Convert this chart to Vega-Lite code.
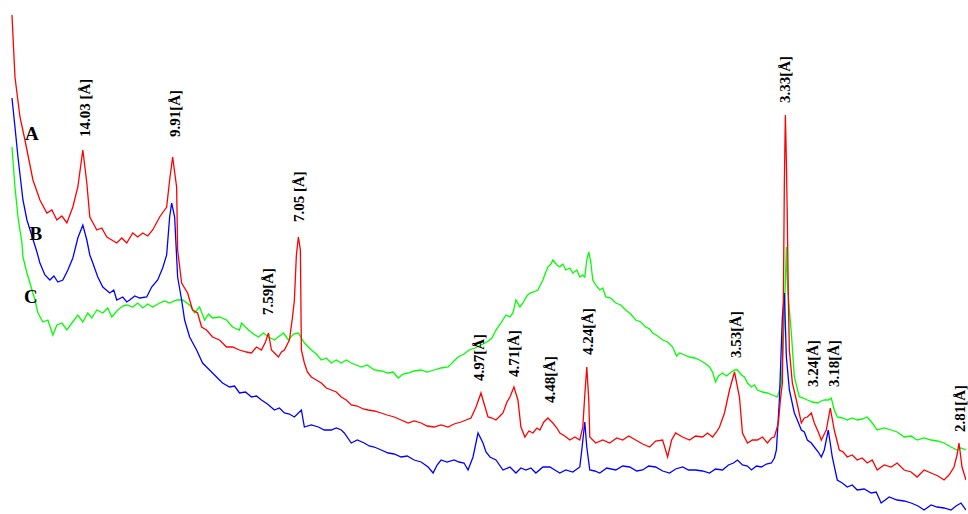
{
  "$schema": "https://vega.github.io/schema/vega-lite/v6.json",
  "width": 968,
  "height": 514,
  "autosize": {"type": "fit", "contains": "padding"},
  "padding": 0,
  "background": "white",
  "config": {"view": {"stroke": null}},
  "datasets": {
    "A": [
      {"angle":4.348,"counts":499},{"angle":4.435,"counts":437},{"angle":4.58,"counts":397},{"angle":4.725,"counts":374},{"angle":4.957,"counts":334},{"angle":5.16,"counts":314},{"angle":5.363,"counts":301},{"angle":5.508,"counts":304},{"angle":5.653,"counts":294},{"angle":5.798,"counts":298},{"angle":5.943,"counts":291},{"angle":6.117,"counts":307},{"angle":6.262,"counts":327},{"angle":6.407,"counts":364},{"angle":6.523,"counts":331},{"angle":6.61,"counts":297},{"angle":6.813,"counts":284},{"angle":6.958,"counts":286},{"angle":7.103,"counts":277},{"angle":7.248,"counts":274},{"angle":7.393,"counts":271},{"angle":7.538,"counts":276},{"angle":7.683,"counts":271},{"angle":7.857,"counts":281},{"angle":8.002,"counts":277},{"angle":8.147,"counts":281},{"angle":8.292,"counts":278},{"angle":8.437,"counts":284},{"angle":8.64,"counts":297},{"angle":8.843,"counts":307},{"angle":8.93,"counts":334},{"angle":9.017,"counts":357},{"angle":9.133,"counts":327},{"angle":9.162,"counts":264},{"angle":9.278,"counts":231},{"angle":9.452,"counts":221},{"angle":9.597,"counts":204},{"angle":9.742,"counts":201},{"angle":9.858,"counts":187},{"angle":10.003,"counts":184},{"angle":10.177,"counts":177},{"angle":10.38,"counts":174},{"angle":10.583,"counts":167},{"angle":10.757,"counts":167},{"angle":10.96,"counts":164},{"angle":11.163,"counts":162},{"angle":11.308,"counts":161},{"angle":11.453,"counts":167},{"angle":11.598,"counts":164},{"angle":11.714,"counts":172},{"angle":11.801,"counts":181},{"angle":11.888,"counts":164},{"angle":12.004,"counts":160},{"angle":12.091,"counts":157},{"angle":12.178,"counts":162},{"angle":12.265,"counts":164},{"angle":12.41,"counts":174},{"angle":12.497,"counts":196},{"angle":12.555,"counts":214},{"angle":12.613,"counts":259},{"angle":12.671,"counts":277},{"angle":12.729,"counts":264},{"angle":12.758,"counts":164},{"angle":12.845,"counts":151},{"angle":12.932,"counts":142},{"angle":13.048,"counts":137},{"angle":13.193,"counts":134},{"angle":13.338,"counts":131},{"angle":13.483,"counts":126},{"angle":13.628,"counts":124},{"angle":13.773,"counts":122},{"angle":13.918,"counts":117},{"angle":14.063,"counts":114},{"angle":14.208,"counts":109},{"angle":14.382,"counts":108},{"angle":14.556,"counts":105},{"angle":14.701,"counts":104},{"angle":14.875,"counts":103},{"angle":15.078,"counts":101},{"angle":15.252,"counts":99},{"angle":15.455,"counts":97},{"angle":15.658,"counts":94},{"angle":15.861,"counts":91},{"angle":16.035,"counts":93},{"angle":16.238,"counts":91},{"angle":16.412,"counts":88},{"angle":16.615,"counts":87},{"angle":16.818,"counts":89},{"angle":17.021,"counts":87},{"angle":17.195,"counts":90},{"angle":17.398,"counts":92},{"angle":17.543,"counts":94},{"angle":17.688,"counts":96},{"angle":17.833,"counts":107},{"angle":17.978,"counts":121},{"angle":18.036,"counts":114},{"angle":18.181,"counts":97},{"angle":18.297,"counts":96},{"angle":18.413,"counts":94},{"angle":18.529,"counts":98},{"angle":18.616,"counts":101},{"angle":18.732,"counts":112},{"angle":18.819,"counts":117},{"angle":18.935,"counts":127},{"angle":19.051,"counts":114},{"angle":19.138,"counts":87},{"angle":19.254,"counts":77},{"angle":19.37,"counts":83},{"angle":19.486,"counts":81},{"angle":19.602,"counts":86},{"angle":19.689,"counts":84},{"angle":19.805,"counts":92},{"angle":19.921,"counts":96},{"angle":20.066,"counts":91},{"angle":20.182,"counts":86},{"angle":20.269,"counts":81},{"angle":20.414,"counts":78},{"angle":20.559,"counts":74},{"angle":20.704,"counts":77},{"angle":20.849,"counts":74},{"angle":20.936,"counts":87},{"angle":20.994,"counts":119},{"angle":21.052,"counts":147},{"angle":21.11,"counts":114},{"angle":21.139,"counts":77},{"angle":21.313,"counts":71},{"angle":21.516,"counts":74},{"angle":21.719,"counts":71},{"angle":21.922,"counts":76},{"angle":22.096,"counts":74},{"angle":22.27,"counts":78},{"angle":22.473,"counts":74},{"angle":22.676,"counts":70},{"angle":22.879,"counts":67},{"angle":23.053,"counts":73},{"angle":23.256,"counts":74},{"angle":23.401,"counts":57},{"angle":23.517,"counts":74},{"angle":23.633,"counts":81},{"angle":23.836,"counts":77},{"angle":24.039,"counts":74},{"angle":24.213,"counts":78},{"angle":24.416,"counts":77},{"angle":24.561,"counts":81},{"angle":24.706,"counts":77},{"angle":24.822,"counts":82},{"angle":24.909,"counts":87},{"angle":25.054,"counts":101},{"angle":25.199,"counts":124},{"angle":25.344,"counts":142},{"angle":25.489,"counts":117},{"angle":25.576,"counts":81},{"angle":25.721,"counts":71},{"angle":25.866,"counts":74},{"angle":26.011,"counts":74},{"angle":26.156,"counts":77},{"angle":26.301,"counts":71},{"angle":26.417,"counts":76},{"angle":26.504,"counts":77},{"angle":26.62,"counts":91},{"angle":26.678,"counts":114},{"angle":26.736,"counts":131},{"angle":26.765,"counts":214},{"angle":26.794,"counts":334},{"angle":26.823,"counts":399},{"angle":26.852,"counts":354},{"angle":26.881,"counts":291},{"angle":26.91,"counts":214},{"angle":26.939,"counts":164},{"angle":27.026,"counts":131},{"angle":27.142,"counts":114},{"angle":27.287,"counts":91},{"angle":27.374,"counts":96},{"angle":27.461,"counts":97},{"angle":27.577,"counts":101},{"angle":27.664,"counts":91},{"angle":27.78,"counts":82},{"angle":27.867,"counts":74},{"angle":27.954,"counts":80},{"angle":28.012,"counts":84},{"angle":28.128,"counts":106},{"angle":28.244,"counts":84},{"angle":28.389,"counts":64},{"angle":28.505,"counts":62},{"angle":28.621,"counts":57},{"angle":28.766,"counts":59},{"angle":28.911,"counts":54},{"angle":29.056,"counts":56},{"angle":29.201,"counts":51},{"angle":29.346,"counts":54},{"angle":29.491,"counts":44},{"angle":29.694,"counts":49},{"angle":29.897,"counts":47},{"angle":30.071,"counts":51},{"angle":30.274,"counts":44},{"angle":30.477,"counts":42},{"angle":30.651,"counts":37},{"angle":30.854,"counts":44},{"angle":31.057,"counts":41},{"angle":31.26,"counts":38},{"angle":31.434,"counts":34},{"angle":31.579,"counts":39},{"angle":31.724,"counts":47},{"angle":31.811,"counts":59},{"angle":31.869,"counts":71},{"angle":31.956,"counts":47},{"angle":32.072,"counts":34}
    ],
    "B": [
      {"angle":4.348,"counts":416},{"angle":4.435,"counts":387},{"angle":4.522,"counts":357},{"angle":4.667,"counts":314},{"angle":4.783,"counts":294},{"angle":4.928,"counts":278},{"angle":5.073,"counts":262},{"angle":5.16,"counts":251},{"angle":5.305,"counts":239},{"angle":5.45,"counts":234},{"angle":5.566,"counts":238},{"angle":5.682,"counts":232},{"angle":5.827,"counts":234},{"angle":5.972,"counts":244},{"angle":6.117,"counts":256},{"angle":6.262,"counts":276},{"angle":6.407,"counts":289},{"angle":6.523,"counts":274},{"angle":6.61,"counts":259},{"angle":6.697,"counts":251},{"angle":6.842,"counts":237},{"angle":6.987,"counts":227},{"angle":7.19,"counts":221},{"angle":7.306,"counts":224},{"angle":7.393,"counts":214},{"angle":7.567,"counts":217},{"angle":7.683,"counts":212},{"angle":7.77,"counts":214},{"angle":7.915,"counts":218},{"angle":8.06,"counts":216},{"angle":8.263,"counts":217},{"angle":8.408,"counts":227},{"angle":8.582,"counts":234},{"angle":8.727,"counts":246},{"angle":8.843,"counts":259},{"angle":8.93,"counts":297},{"angle":8.988,"counts":311},{"angle":9.075,"counts":297},{"angle":9.133,"counts":257},{"angle":9.162,"counts":237},{"angle":9.278,"counts":214},{"angle":9.365,"counts":194},{"angle":9.51,"counts":177},{"angle":9.713,"counts":164},{"angle":9.887,"counts":151},{"angle":10.09,"counts":144},{"angle":10.293,"counts":137},{"angle":10.467,"counts":131},{"angle":10.67,"counts":127},{"angle":10.815,"counts":128},{"angle":10.96,"counts":121},{"angle":11.134,"counts":122},{"angle":11.308,"counts":117},{"angle":11.453,"counts":118},{"angle":11.598,"counts":114},{"angle":11.772,"counts":110},{"angle":11.975,"counts":104},{"angle":12.12,"counts":106},{"angle":12.265,"counts":101},{"angle":12.41,"counts":100},{"angle":12.555,"counts":97},{"angle":12.758,"counts":104},{"angle":12.845,"counts":87},{"angle":13.048,"counts":89},{"angle":13.251,"counts":87},{"angle":13.425,"counts":84},{"angle":13.628,"counts":84},{"angle":13.773,"counts":86},{"angle":13.918,"counts":84},{"angle":14.005,"counts":81},{"angle":14.208,"counts":71},{"angle":14.382,"counts":74},{"angle":14.585,"counts":71},{"angle":14.73,"counts":68},{"angle":14.875,"counts":67},{"angle":15.078,"counts":64},{"angle":15.281,"counts":61},{"angle":15.455,"counts":60},{"angle":15.658,"counts":57},{"angle":15.832,"counts":58},{"angle":16.035,"counts":54},{"angle":16.238,"counts":52},{"angle":16.441,"counts":47},{"angle":16.586,"counts":41},{"angle":16.702,"counts":49},{"angle":16.818,"counts":54},{"angle":16.992,"counts":52},{"angle":17.195,"counts":54},{"angle":17.34,"counts":52},{"angle":17.485,"counts":51},{"angle":17.601,"counts":44},{"angle":17.746,"counts":57},{"angle":17.891,"counts":81},{"angle":18.036,"counts":71},{"angle":18.123,"counts":62},{"angle":18.239,"counts":57},{"angle":18.413,"counts":54},{"angle":18.616,"counts":44},{"angle":18.819,"counts":47},{"angle":18.993,"counts":41},{"angle":19.138,"counts":46},{"angle":19.283,"counts":44},{"angle":19.428,"counts":46},{"angle":19.573,"counts":41},{"angle":19.776,"counts":47},{"angle":19.979,"counts":47},{"angle":20.124,"counts":44},{"angle":20.269,"counts":41},{"angle":20.443,"counts":44},{"angle":20.646,"counts":42},{"angle":20.849,"counts":47},{"angle":20.907,"counts":64},{"angle":20.994,"counts":92},{"angle":21.052,"counts":67},{"angle":21.139,"counts":44},{"angle":21.284,"counts":43},{"angle":21.429,"counts":41},{"angle":21.632,"counts":46},{"angle":21.893,"counts":44},{"angle":22.096,"counts":48},{"angle":22.299,"counts":47},{"angle":22.502,"counts":43},{"angle":22.676,"counts":44},{"angle":22.85,"counts":48},{"angle":23.053,"counts":47},{"angle":23.256,"counts":43},{"angle":23.459,"counts":41},{"angle":23.633,"counts":45},{"angle":23.836,"counts":47},{"angle":24.01,"counts":44},{"angle":24.213,"counts":44},{"angle":24.416,"counts":43},{"angle":24.619,"counts":41},{"angle":24.793,"counts":45},{"angle":24.996,"counts":44},{"angle":25.17,"counts":49},{"angle":25.315,"counts":51},{"angle":25.431,"counts":54},{"angle":25.576,"counts":49},{"angle":25.721,"counts":48},{"angle":25.837,"counts":44},{"angle":25.982,"counts":48},{"angle":26.127,"counts":47},{"angle":26.272,"counts":50},{"angle":26.417,"counts":51},{"angle":26.504,"counts":56},{"angle":26.562,"counts":64},{"angle":26.649,"counts":114},{"angle":26.736,"counts":197},{"angle":26.794,"counts":221},{"angle":26.852,"counts":157},{"angle":26.939,"counts":124},{"angle":27.084,"counts":101},{"angle":27.171,"counts":94},{"angle":27.287,"counts":84},{"angle":27.374,"counts":82},{"angle":27.461,"counts":74},{"angle":27.577,"counts":71},{"angle":27.664,"counts":67},{"angle":27.78,"counts":62},{"angle":27.867,"counts":57},{"angle":27.954,"counts":64},{"angle":28.07,"counts":84},{"angle":28.186,"counts":57},{"angle":28.331,"counts":34},{"angle":28.476,"counts":31},{"angle":28.621,"counts":27},{"angle":28.766,"counts":29},{"angle":28.911,"counts":24},{"angle":29.114,"counts":25},{"angle":29.317,"counts":21},{"angle":29.462,"counts":22},{"angle":29.607,"counts":11},{"angle":29.839,"counts":17},{"angle":30.071,"counts":14},{"angle":30.274,"counts":13},{"angle":30.477,"counts":11},{"angle":30.68,"counts":8},{"angle":30.854,"counts":4},{"angle":31.057,"counts":9},{"angle":31.231,"counts":7},{"angle":31.434,"counts":6},{"angle":31.637,"counts":4},{"angle":31.782,"counts":8},{"angle":31.927,"counts":11},{"angle":32.072,"counts":4}
    ],
    "C": [
      {"angle":4.348,"counts":367},{"angle":4.435,"counts":327},{"angle":4.522,"counts":297},{"angle":4.638,"counts":271},{"angle":4.667,"counts":257},{"angle":4.783,"counts":241},{"angle":4.87,"counts":231},{"angle":5.015,"counts":214},{"angle":5.102,"counts":201},{"angle":5.247,"counts":192},{"angle":5.392,"counts":194},{"angle":5.537,"counts":179},{"angle":5.653,"counts":189},{"angle":5.798,"counts":191},{"angle":5.943,"counts":184},{"angle":6.088,"counts":191},{"angle":6.262,"counts":199},{"angle":6.407,"counts":192},{"angle":6.552,"counts":201},{"angle":6.668,"counts":196},{"angle":6.813,"counts":204},{"angle":6.987,"counts":201},{"angle":7.132,"counts":206},{"angle":7.248,"counts":197},{"angle":7.422,"counts":204},{"angle":7.567,"counts":208},{"angle":7.683,"counts":209},{"angle":7.857,"counts":207},{"angle":8.002,"counts":211},{"angle":8.147,"counts":206},{"angle":8.292,"counts":210},{"angle":8.437,"counts":207},{"angle":8.64,"counts":211},{"angle":8.785,"counts":213},{"angle":8.93,"counts":211},{"angle":9.133,"counts":214},{"angle":9.307,"counts":214},{"angle":9.51,"counts":209},{"angle":9.655,"counts":201},{"angle":9.8,"counts":207},{"angle":9.945,"counts":194},{"angle":10.061,"counts":200},{"angle":10.177,"counts":196},{"angle":10.38,"counts":197},{"angle":10.583,"counts":194},{"angle":10.757,"counts":187},{"angle":10.96,"counts":184},{"angle":11.018,"counts":191},{"angle":11.221,"counts":184},{"angle":11.366,"counts":180},{"angle":11.511,"counts":177},{"angle":11.656,"counts":181},{"angle":11.801,"counts":177},{"angle":11.975,"counts":174},{"angle":12.12,"counts":178},{"angle":12.236,"counts":181},{"angle":12.381,"counts":174},{"angle":12.526,"counts":180},{"angle":12.671,"counts":181},{"angle":12.845,"counts":171},{"angle":13.048,"counts":164},{"angle":13.193,"counts":160},{"angle":13.338,"counts":154},{"angle":13.483,"counts":156},{"angle":13.628,"counts":151},{"angle":13.773,"counts":154},{"angle":13.918,"counts":151},{"angle":14.063,"counts":154},{"angle":14.208,"counts":151},{"angle":14.353,"counts":149},{"angle":14.498,"counts":147},{"angle":14.672,"counts":149},{"angle":14.875,"counts":144},{"angle":15.078,"counts":143},{"angle":15.281,"counts":141},{"angle":15.426,"counts":142},{"angle":15.571,"counts":136},{"angle":15.716,"counts":140},{"angle":15.861,"counts":141},{"angle":16.035,"counts":143},{"angle":16.238,"counts":144},{"angle":16.412,"counts":142},{"angle":16.615,"counts":144},{"angle":16.818,"counts":146},{"angle":17.021,"counts":147},{"angle":17.166,"counts":152},{"angle":17.311,"counts":157},{"angle":17.485,"counts":160},{"angle":17.63,"counts":164},{"angle":17.804,"counts":166},{"angle":17.978,"counts":169},{"angle":18.152,"counts":172},{"angle":18.297,"counts":176},{"angle":18.413,"counts":184},{"angle":18.558,"counts":191},{"angle":18.703,"counts":199},{"angle":18.819,"counts":197},{"angle":18.906,"counts":201},{"angle":18.993,"counts":214},{"angle":19.109,"counts":207},{"angle":19.196,"counts":211},{"angle":19.312,"counts":218},{"angle":19.399,"counts":221},{"angle":19.515,"counts":222},{"angle":19.631,"counts":224},{"angle":19.776,"counts":234},{"angle":19.863,"counts":242},{"angle":19.921,"counts":247},{"angle":20.008,"counts":250},{"angle":20.066,"counts":254},{"angle":20.182,"counts":249},{"angle":20.269,"counts":247},{"angle":20.356,"counts":250},{"angle":20.443,"counts":244},{"angle":20.559,"counts":246},{"angle":20.646,"counts":241},{"angle":20.762,"counts":244},{"angle":20.849,"counts":237},{"angle":20.936,"counts":239},{"angle":20.994,"counts":237},{"angle":21.052,"counts":254},{"angle":21.11,"counts":262},{"angle":21.168,"counts":252},{"angle":21.226,"counts":234},{"angle":21.313,"counts":229},{"angle":21.429,"counts":224},{"angle":21.516,"counts":226},{"angle":21.603,"counts":217},{"angle":21.748,"counts":216},{"angle":21.893,"counts":211},{"angle":22.038,"counts":209},{"angle":22.183,"counts":204},{"angle":22.328,"counts":200},{"angle":22.473,"counts":194},{"angle":22.618,"counts":192},{"angle":22.763,"counts":187},{"angle":22.879,"counts":185},{"angle":22.966,"counts":181},{"angle":23.111,"counts":178},{"angle":23.256,"counts":174},{"angle":23.401,"counts":172},{"angle":23.546,"counts":167},{"angle":23.662,"counts":158},{"angle":23.749,"counts":161},{"angle":23.894,"counts":159},{"angle":24.039,"counts":157},{"angle":24.184,"counts":156},{"angle":24.329,"counts":154},{"angle":24.474,"counts":151},{"angle":24.619,"counts":147},{"angle":24.706,"counts":142},{"angle":24.793,"counts":132},{"angle":24.88,"counts":138},{"angle":24.996,"counts":141},{"angle":25.112,"counts":138},{"angle":25.257,"counts":142},{"angle":25.344,"counts":144},{"angle":25.431,"counts":144},{"angle":25.547,"counts":139},{"angle":25.634,"counts":137},{"angle":25.721,"counts":131},{"angle":25.837,"counts":127},{"angle":25.924,"counts":129},{"angle":26.011,"counts":124},{"angle":26.156,"counts":122},{"angle":26.301,"counts":121},{"angle":26.446,"counts":119},{"angle":26.591,"counts":117},{"angle":26.707,"counts":131},{"angle":26.765,"counts":174},{"angle":26.794,"counts":197},{"angle":26.852,"counts":267},{"angle":26.881,"counts":231},{"angle":26.939,"counts":204},{"angle":26.997,"counts":181},{"angle":27.084,"counts":137},{"angle":27.229,"counts":117},{"angle":27.345,"counts":116},{"angle":27.461,"counts":114},{"angle":27.606,"counts":112},{"angle":27.751,"counts":111},{"angle":27.867,"counts":113},{"angle":27.954,"counts":114},{"angle":28.07,"counts":114},{"angle":28.157,"counts":116},{"angle":28.244,"counts":104},{"angle":28.331,"counts":97},{"angle":28.476,"counts":96},{"angle":28.621,"counts":94},{"angle":28.766,"counts":96},{"angle":28.911,"counts":94},{"angle":29.056,"counts":95},{"angle":29.201,"counts":97},{"angle":29.346,"counts":91},{"angle":29.491,"counts":84},{"angle":29.694,"counts":86},{"angle":29.897,"counts":84},{"angle":30.071,"counts":82},{"angle":30.274,"counts":77},{"angle":30.477,"counts":78},{"angle":30.651,"counts":74},{"angle":30.854,"counts":76},{"angle":31.057,"counts":74},{"angle":31.231,"counts":73},{"angle":31.434,"counts":71},{"angle":31.637,"counts":67},{"angle":31.811,"counts":64},{"angle":31.927,"counts":66},{"angle":32.072,"counts":64}
    ],
    "peaks": [
      {"label":"14.03 [Å]","angle":6.465,"counts":377},
      {"label":"9.91[Å]","angle":9.075,"counts":377},
      {"label":"7.59[Å]","angle":11.801,"counts":199},
      {"label":"7.05 [Å]","angle":12.7,"counts":292},
      {"label":"4.97[Å]","angle":17.92,"counts":133},
      {"label":"4.71[Å]","angle":18.935,"counts":137},
      {"label":"4.48[Å]","angle":19.979,"counts":111},
      {"label":"4.24[Å]","angle":21.081,"counts":159},
      {"label":"3.53[Å]","angle":25.402,"counts":156},
      {"label":"3.33[Å]","angle":26.823,"counts":411},
      {"label":"3.24[Å]","angle":27.635,"counts":127},
      {"label":"3.18[Å]","angle":28.244,"counts":127},
      {"label":"2.81[Å]","angle":31.898,"counts":82}
    ],
    "names": [
      {"sample":"A","angle":4.928,"counts":380},
      {"sample":"B","angle":5.044,"counts":280},
      {"sample":"C","angle":4.899,"counts":217}
    ]
  },
  "encoding": {
    "x": {"field": "angle", "type": "quantitative", "scale": {"domain": [4, 32.072], "nice": false, "zero": false}, "axis": null},
    "y": {"field": "counts", "type": "quantitative", "scale": {"domain": [0, 514], "nice": false, "zero": false}, "axis": null}
  },
  "layer": [
    {"data": {"name": "C"}, "mark": {"type": "line", "color": "#00ff00", "strokeWidth": 1.3, "clip": true}, "encoding": {}},
    {"data": {"name": "B"}, "mark": {"type": "line", "color": "#0000ff", "strokeWidth": 1.3, "clip": true}, "encoding": {}},
    {"data": {"name": "A"}, "mark": {"type": "line", "color": "#ff0000", "strokeWidth": 1.3, "clip": true}, "encoding": {}},
    {"data": {"name": "peaks"}, "mark": {"type": "text", "angle": 270, "align": "left", "baseline": "middle", "font": "Liberation Serif", "fontWeight": "bold", "fontSize": 15, "color": "black"}, "encoding": {"text": {"field": "label"}}},
    {"data": {"name": "names"}, "mark": {"type": "text", "align": "center", "baseline": "middle", "font": "Liberation Serif", "fontWeight": "bold", "fontSize": 19, "color": "black"}, "encoding": {"text": {"field": "sample"}}}
  ]
}
